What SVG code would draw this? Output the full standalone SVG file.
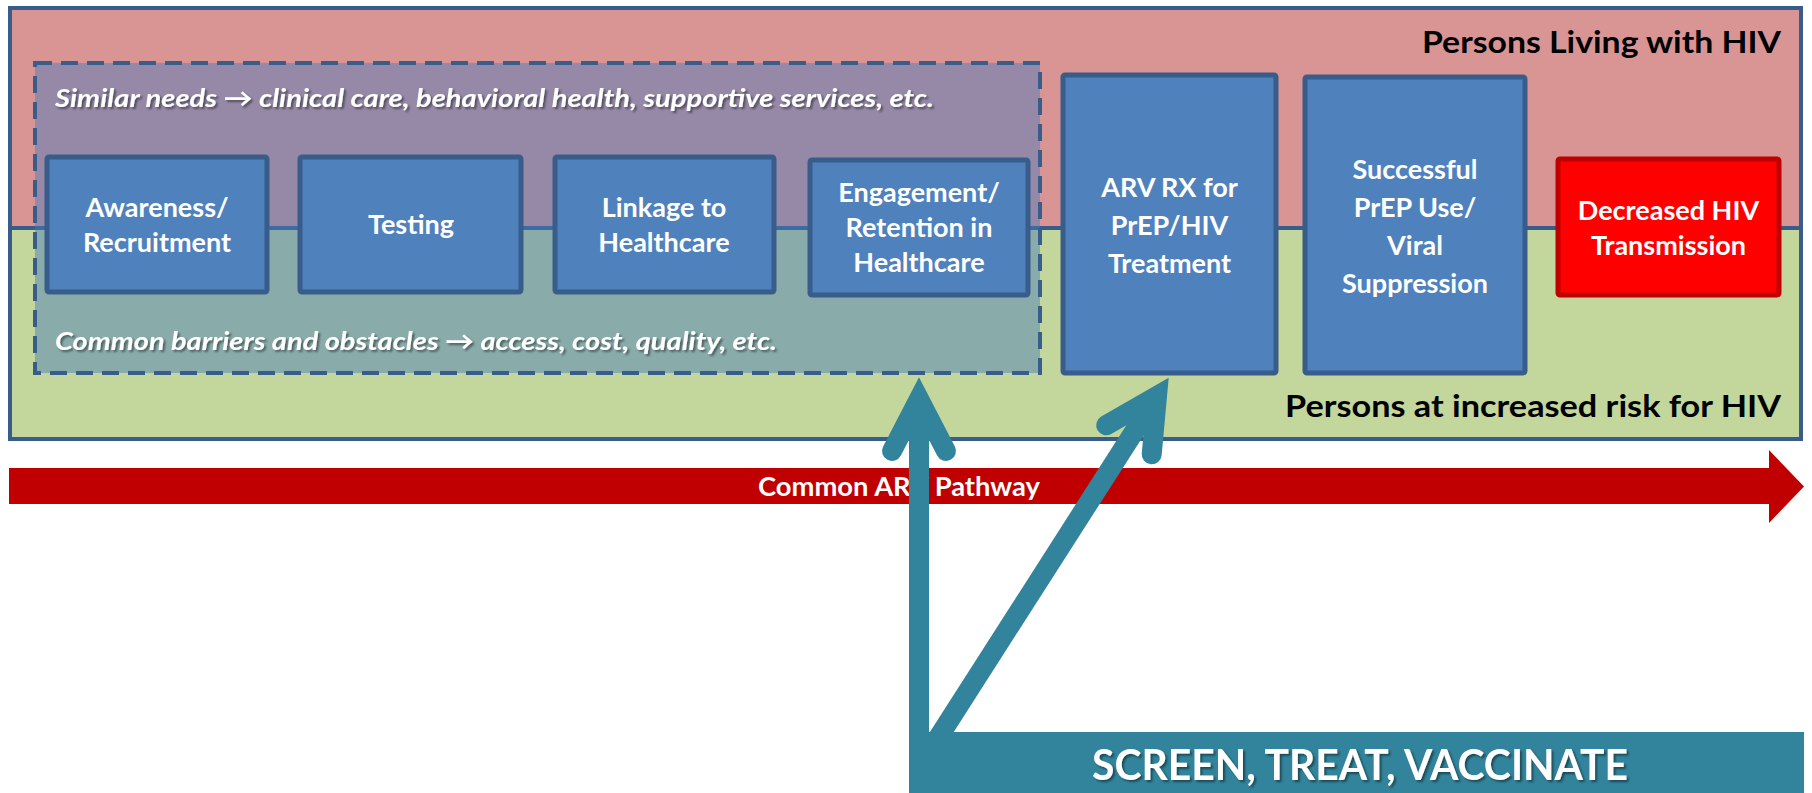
<svg xmlns="http://www.w3.org/2000/svg" width="1812" height="793" viewBox="0 0 1812 793">
<style>
.node rect{fill:#4F81BD;stroke:#385D8A;stroke-width:5}
.node text,.white{fill:#FFFFFF;font-family:Lato,"Liberation Sans",sans-serif;font-weight:bold;text-anchor:middle}
.node text{font-size:27px}
.title{fill:#000000;font-family:Lato,"Liberation Sans",sans-serif;font-weight:bold;font-size:31px;text-anchor:end}
.ital{fill:#FFFFFF;font-family:Lato,"Liberation Sans",sans-serif;font-weight:bold;font-style:italic;font-size:25px}
.shaft{fill:none;stroke:#31849B;stroke-width:20}
</style>
<defs>
<filter id="shadow" x="-5%" y="-30%" width="110%" height="160%">
<feDropShadow dx="2" dy="2" stdDeviation="1" flood-color="#000000" flood-opacity="0.45"/>
</filter>
<marker id="openArrow" markerUnits="userSpaceOnUse" orient="auto" viewBox="-100 -60 130 120" markerWidth="130" markerHeight="120" refX="0" refY="0" overflow="visible">
<path d="M -52 -27 L 0 0 L -52 27" fill="none" stroke="#31849B" stroke-width="20" stroke-linecap="round" stroke-linejoin="miter"/>
</marker>
</defs>

<g id="populations">
<rect x="10" y="8" width="1791" height="220" fill="#D99594" stroke="#385D8A" stroke-width="4"/>
<rect x="10" y="228" width="1791" height="211" fill="#C3D69B" stroke="#385D8A" stroke-width="4"/>
<text class="title" x="1781" y="53" textLength="359" lengthAdjust="spacingAndGlyphs">Persons Living with HIV</text>
<text class="title" x="1781" y="417" textLength="496" lengthAdjust="spacingAndGlyphs">Persons at increased risk for HIV</text>
</g>

<g id="common-group">
<rect x="35" y="63" width="1005" height="310" fill="#427ABE" fill-opacity="0.45" stroke="#385D8A" stroke-width="4" stroke-dasharray="17 9"/>
<text class="ital" x="55" y="107" textLength="879" lengthAdjust="spacingAndGlyphs" filter="url(#shadow)">Similar needs → clinical care, behavioral health, supportive services, etc.</text>
<text class="ital" x="55" y="350" textLength="722" lengthAdjust="spacingAndGlyphs" filter="url(#shadow)">Common barriers and obstacles → access, cost, quality, etc.</text>
</g>

<g id="awareness" class="node">
<rect x="47" y="157" width="220" height="135" rx="2"/>
<text x="157" y="217">Awareness/</text>
<text x="157" y="252">Recruitment</text>
</g>
<g id="testing" class="node">
<rect x="300" y="157" width="221" height="135" rx="2"/>
<text x="411" y="234">Testing</text>
</g>
<g id="linkage" class="node">
<rect x="555" y="157" width="219" height="135" rx="2"/>
<text x="664" y="217">Linkage to</text>
<text x="664" y="252">Healthcare</text>
</g>
<g id="engagement" class="node">
<rect x="810" y="160" width="218" height="135" rx="2"/>
<text x="919" y="202">Engagement/</text>
<text x="919" y="237">Retention in</text>
<text x="919" y="272">Healthcare</text>
</g>
<g id="arv" class="node">
<rect x="1063" y="75" width="213" height="298" rx="2"/>
<text x="1169.5" y="197">ARV RX for</text>
<text x="1169.5" y="235">PrEP/HIV</text>
<text x="1169.5" y="273">Treatment</text>
</g>
<g id="successful" class="node">
<rect x="1305" y="77" width="220" height="296" rx="2"/>
<text x="1415" y="179">Successful</text>
<text x="1415" y="217">PrEP Use/</text>
<text x="1415" y="255">Viral</text>
<text x="1415" y="293">Suppression</text>
</g>
<g id="decreased" class="node">
<rect x="1558" y="159" width="221" height="136" rx="2" style="fill:#FF0000;stroke:#C00000"/>
<text x="1668.5" y="220">Decreased HIV</text>
<text x="1668.5" y="255">Transmission</text>
</g>

<g id="pathway">
<polygon points="9,468 1769,468 1769,450 1804,486.5 1769,523 1769,504 9,504" fill="#C00000"/>
<text class="white" x="899" y="496" font-size="26" textLength="282" lengthAdjust="spacingAndGlyphs">Common ARV Pathway</text>
</g>

<g id="connectors">
<path class="shaft" d="M 919 800 L 919 399" marker-end="url(#openArrow)"/>
<path class="shaft" d="M 938 738 L 1157 396" marker-end="url(#openArrow)"/>
</g>

<g id="screen-treat-vaccinate">
<rect x="909" y="732" width="895" height="70" fill="#31849B"/>
<text class="white" x="1360" y="780" font-size="42" textLength="536" lengthAdjust="spacingAndGlyphs" filter="url(#shadow)">SCREEN, TREAT, VACCINATE</text>
</g>
</svg>
